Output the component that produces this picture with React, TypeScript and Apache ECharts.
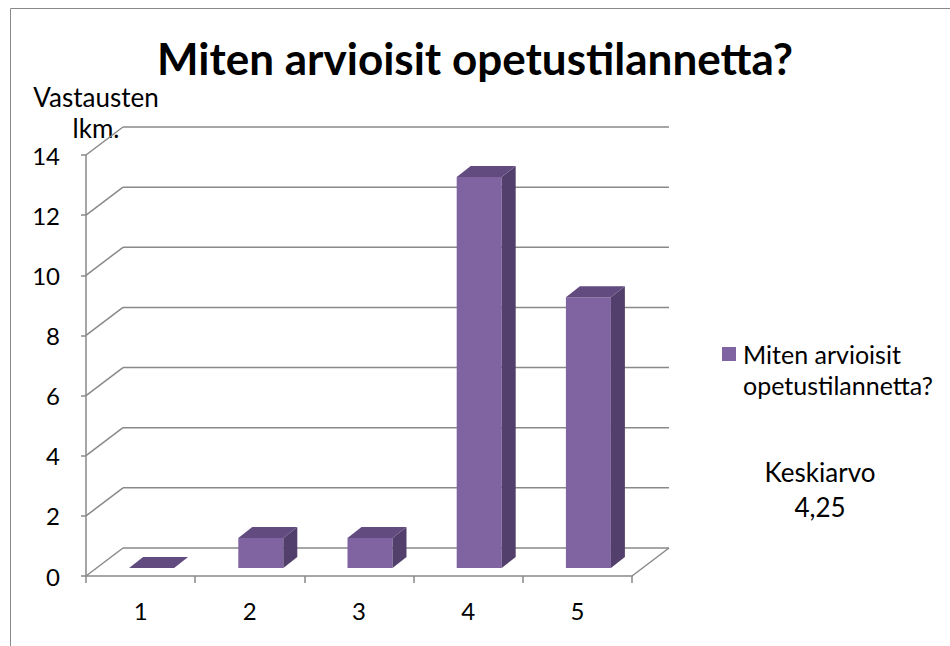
import React, { useEffect, useRef } from "react";
import * as echarts from "echarts";

const CATEGORIES = ["1", "2", "3", "4", "5"];
const COUNTS = [0, 1, 1, 13, 9];
const Y_TICKS = [0, 2, 4, 6, 8, 10, 12, 14];
const TITLE = "Miten arvioisit opetustilannetta?";
const Y_NAME = "Vastausten\nlkm.";
const LEGEND_TEXT = "Miten arvioisit\nopetustilannetta?";
const NOTE = "Keskiarvo\n4,25";

const FONT = "Lato, 'Open Sans', sans-serif";
const GRAY = "#898989";
const DX = 37;
const DY = -28;

export default function App() {
  const ref = useRef<HTMLDivElement>(null);
  useEffect(() => {
    if (!ref.current) return;
    const chart = echarts.init(ref.current, null, { renderer: "svg" });
    const option: any = {
      animation: false,
      backgroundColor: "#fff",
      title: {
        text: TITLE,
        left: "center",
        top: 31,
        textStyle: { fontFamily: FONT, fontWeight: "bold", fontSize: 44, color: "#000" },
      },
      grid: { left: 86, top: 155, width: 546, height: 421, containLabel: false },
      xAxis: {
        type: "category",
        data: CATEGORIES,
        boundaryGap: true,
        axisLine: { show: true, lineStyle: { color: GRAY, width: 1.5 } },
        axisTick: { show: true, length: 7, alignWithLabel: false, lineStyle: { color: GRAY, width: 1.5 } },
        axisLabel: { margin: 22, color: "#000", fontFamily: FONT, fontSize: 24 },
        splitLine: { show: false },
      },
      yAxis: {
        type: "value",
        min: 0,
        max: 14,
        interval: 2,
        axisLine: { show: true, lineStyle: { color: GRAY, width: 1.5 } },
        axisTick: { show: true, length: 5, lineStyle: { color: GRAY, width: 1.5 } },
        axisLabel: { margin: 26, color: "#000", fontFamily: FONT, fontSize: 24, padding: [8, 0, 0, 0] },
        splitLine: { show: false },
      },
      series: [
        {
          type: "custom",
          z: 1,
          silent: true,
          data: Y_TICKS.map((v) => [0, v]),
          encode: { x: 0, y: 1 },
          renderItem: (params: any, api: any) => {
            const v = api.value(1);
            const p = api.coord([0, v]);
            const y = p[1];
            const cs = params.coordSys;
            const left = cs.x;
            const right = cs.x + cs.width;
            const ls = { stroke: GRAY, lineWidth: 1.5 };
            const children: any[] = [
              { type: "line", shape: { x1: left, y1: y, x2: left + DX, y2: y + DY }, style: ls },
              { type: "line", shape: { x1: left + DX, y1: y + DY, x2: right + DX, y2: y + DY }, style: ls },
            ];
            if (v === 0) {
              children.push({ type: "line", shape: { x1: right, y1: y, x2: right + DX, y2: y + DY }, style: ls });
            }
            return { type: "group", children };
          },
        },
        {
          type: "custom",
          name: TITLE,
          z: 3,
          data: COUNTS.map((v, i) => [i, v]),
          encode: { x: 0, y: 1 },
          renderItem: (params: any, api: any) => {
            const idx = api.value(0);
            const v = api.value(1);
            const base = api.coord([idx, 0]);
            const top = api.coord([idx, v]);
            const x0 = base[0] - 11.5;
            const x1 = x0 + 45;
            const yb = base[1] - 8;
            const yt = top[1] - 8;
            const dx = 14;
            const dy = -11;
            return {
              type: "group",
              children: [
                { type: "polygon", shape: { points: [[x0, yb], [x1, yb], [x1, yt], [x0, yt]] }, style: { fill: "#8064A2" } },
                { type: "polygon", shape: { points: [[x1, yb], [x1 + dx, yb + dy], [x1 + dx, yt + dy], [x1, yt]] }, style: { fill: "#533F6C" } },
                { type: "polygon", shape: { points: [[x0, yt], [x1, yt], [x1 + dx, yt + dy], [x0 + dx, yt + dy]] }, style: { fill: "#624B7F" } },
              ],
            };
          },
        },
      ],
      graphic: [
        { type: "rect", silent: true, shape: { x: 10.5, y: 8.5, width: 1000, height: 1000 }, style: { fill: "none", stroke: GRAY, lineWidth: 1 } },
        {
          type: "text",
          x: 96,
          y: 81,
          style: { text: Y_NAME, font: `26px ${FONT}`, fill: "#000", textAlign: "center", textVerticalAlign: "top", lineHeight: 31 },
        },
        { type: "rect", shape: { x: 722, y: 347, width: 14, height: 14 }, style: { fill: "#8064A2" } },
        {
          type: "text",
          x: 743,
          y: 338,
          style: { text: LEGEND_TEXT, font: `25px ${FONT}`, fill: "#000", textAlign: "left", textVerticalAlign: "top", lineHeight: 31 },
        },
        {
          type: "text",
          x: 820,
          y: 454,
          style: { text: NOTE, font: `26px ${FONT}`, fill: "#000", textAlign: "center", textVerticalAlign: "top", lineHeight: 35 },
        },
      ],
    };
    chart.setOption(option);
    return () => chart.dispose();
  }, []);
  return <div ref={ref} style={{ position: "absolute", left: 0, top: 0, width: 950, height: 646 }} />;
}
